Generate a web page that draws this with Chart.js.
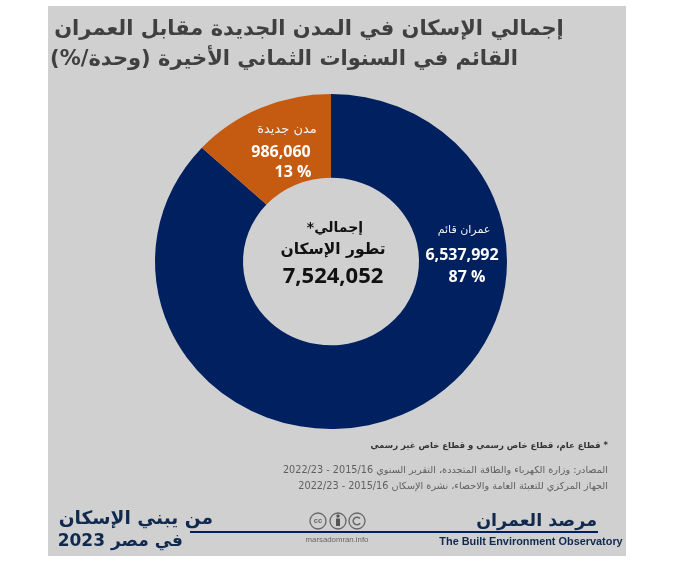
<!DOCTYPE html>
<html lang="ar"><head><meta charset="utf-8">
<style>html,body{margin:0;padding:0;background:#fff}canvas{display:block}</style>
<script src="https://cdn.jsdelivr.net/npm/chart.js@4"></script></head>
<body><div style="width:692px;height:576px;position:relative"><canvas id="c"></canvas></div>
<script>
const categories = ["عمران قائم", "مدن جديدة"];
const values = [6537992, 986060];
const percents = [87, 13];
const total = 7524052;
const colors = ["#002060", "#c55a11"];
const titleLines = ["إجمالي الإسكان في المدن الجديدة مقابل العمران", "القائم في السنوات الثماني الأخيرة (وحدة/%)"];
const centerLines = ["إجمالي*", "تطور الإسكان"];
const noteLine = "* قطاع عام، قطاع خاص رسمي و قطاع خاص غير رسمي";
const sourceLines = ["المصادر: وزارة الكهرباء والطاقة المتجددة، التقرير السنوي 2015/16 - 2022/23", "الجهاز المركزي للتعبئة العامة والاحصاء، نشرة الإسكان 2015/16 - 2022/23"];
const footerLeft = ["من يبني الإسكان", "في مصر 2023"];
const brandAr = "مرصد العمران";
const brandEn = "The Built Environment Observatory";
const site = "marsadomran.info";

const AR = '"DejaVu Sans"';
const STRETCH = 1.0507;
function t(ctx, s, x, y, font, color, align) {
  ctx.font = font; ctx.fillStyle = color; ctx.textAlign = align || "center"; ctx.textBaseline = "middle";
  ctx.fillText(s, x, y);
}
const fmt = v => v.toLocaleString("en-US");
const panel = {
  id: "panel",
  beforeDraw(c) {
    const x = c.ctx; x.save();
    x.fillStyle = "#fff"; x.fillRect(0, 0, c.width, c.height);
    x.fillStyle = "#d0d0d0"; x.fillRect(48, 6, 578, 550);
    x.restore();
  },
  beforeDatasetsDraw(c) {
    const x = c.ctx, m = c.getDatasetMeta(0).data[0];
    x.save(); x.translate(m.x, 0); x.scale(STRETCH, 1); x.translate(-m.x, 0);
  },
  afterDatasetsDraw(c) { c.ctx.restore(); },
  afterDraw(c) {
    const x = c.ctx; x.save(); x.direction = "rtl";
    t(x, titleLines[0], 309, 30, `bold 21px ${AR}`, "#404040");
    t(x, titleLines[1], 284, 60, `bold 21px ${AR}`, "#404040");

    t(x, categories[1], 287, 130, `13px ${AR}`, "#f2f2f2");
    t(x, categories[0], 464, 230, `11px ${AR}`, "#f2f2f2");
    t(x, centerLines[0], 335, 228, `bold 14px ${AR}`, "#111");
    t(x, centerLines[1], 333, 250, `bold 15.5px ${AR}`, "#111");
    x.direction = "ltr";
    t(x, fmt(values[1]), 281, 152, `bold 16px "Open Sans"`, "#fff");
    t(x, percents[1] + " %", 293, 172, `bold 16px "Open Sans"`, "#fff");
    t(x, fmt(values[0]), 462, 255, `bold 16px "Open Sans"`, "#fff");
    t(x, percents[0] + " %", 467, 277, `bold 16px "Open Sans"`, "#fff");
    t(x, fmt(total), 333, 277, `bold 22px "Open Sans"`, "#111");

    x.direction = "rtl";
    t(x, noteLine, 608, 446, `bold 8.5px ${AR}`, "#333", "right");
    t(x, sourceLines[0], 608, 470, `9.7px ${AR}`, "#5f5f5f", "right");
    t(x, sourceLines[1], 608, 486, `9.7px ${AR}`, "#5f5f5f", "right");

    t(x, footerLeft[0], 213, 519, `bold 18.6px ${AR}`, "#10294f", "right");
    t(x, footerLeft[1], 183, 542, `bold 17px ${AR}`, "#10294f", "right");
    t(x, brandAr, 597, 521, `bold 17.5px ${AR}`, "#10294f", "right");
    x.direction = "ltr";
    t(x, brandEn, 531, 542, `bold 10.9px "Liberation Sans"`, "#10294f");
    t(x, site, 337, 540, `7.8px "Liberation Sans"`, "#666");

    x.strokeStyle = "#002060"; x.lineWidth = 2;
    x.beginPath(); x.moveTo(190, 532); x.lineTo(598, 532); x.stroke();

    x.strokeStyle = "#666"; x.lineWidth = 1.3;
    [318, 338, 357].forEach(px => { x.beginPath(); x.arc(px, 521, 8, 0, 7); x.stroke(); });
    t(x, "cc", 318, 521, `bold 7.5px "Liberation Sans"`, "#666");
    x.fillStyle = "#555";
    x.beginPath(); x.arc(338, 516, 1.7, 0, 7); x.fill();
    x.fillRect(336, 518.5, 4, 7.5);
    x.lineWidth = 1.6;
    x.beginPath(); x.arc(357, 521, 3.8, 0.6, 5.6); x.stroke();
    x.restore();
  }
};
new Chart(document.getElementById("c"), {
  type: "doughnut",
  data: { labels: categories, datasets: [{ data: values, backgroundColor: colors, borderWidth: 0 }] },
  options: {
    responsive: true, maintainAspectRatio: false, animation: false,
    cutout: "50%", rotation: 0,
    layout: { padding: { left: 163, right: 193, top: 94, bottom: 147 } },
    plugins: { legend: { display: false }, tooltip: { enabled: false } }
  },
  plugins: [panel]
});
</script></body></html>
